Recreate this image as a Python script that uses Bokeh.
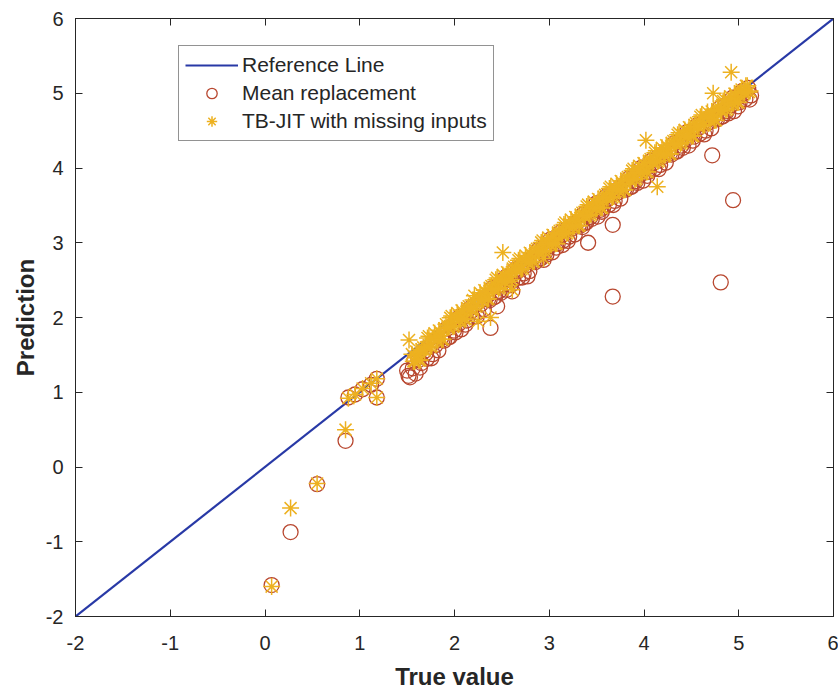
from bokeh.plotting import figure
from bokeh.models import Range1d, FixedTicker, LinearAxis, Legend, LegendItem
from bokeh.embed import file_html
from bokeh.resources import INLINE

# ---------------- data ----------------
ref_x = [-2, 6]
ref_y = [-2, 6]

mean_x = [0.07, 0.27, 0.55, 0.85, 0.88, 0.95, 1.03, 1.12, 1.18, 1.18,
          1.50, 1.53, 1.56, 1.59, 1.62, 1.65, 1.68, 1.71, 1.74, 1.77,
          1.80, 1.83, 1.86, 1.89, 1.92, 1.95, 1.98, 2.01, 2.04, 2.07,
          2.10, 2.13, 2.16, 2.19, 2.22, 2.25, 2.28, 2.31, 2.34, 2.37,
          2.40, 2.43, 2.46, 2.49, 2.52, 2.55, 2.58, 2.61, 2.64, 2.67,
          2.70, 2.73, 2.76, 2.79, 2.82, 2.85, 2.88, 2.91, 2.94, 2.97,
          3.00, 3.03, 3.06, 3.09, 3.12, 3.15, 3.18, 3.21, 3.24, 3.27,
          3.30, 3.33, 3.36, 3.39, 3.42, 3.45, 3.48, 3.51, 3.54, 3.57,
          3.60, 3.63, 3.66, 3.69, 3.72, 3.75, 3.78, 3.81, 3.84, 3.87,
          3.90, 3.93, 3.96, 3.99, 4.02, 4.05, 4.08, 4.11, 4.14, 4.17,
          4.20, 4.23, 4.26, 4.29, 4.32, 4.35, 4.38, 4.41, 4.44, 4.47,
          4.50, 4.53, 4.56, 4.59, 4.62, 4.65, 4.68, 4.71, 4.74, 4.77,
          4.80, 4.83, 4.86, 4.89, 4.92, 4.95, 4.98, 5.01, 5.04, 5.07,
          5.10, 5.13,
          1.515, 1.575, 1.635, 1.695, 1.755, 1.815, 1.875, 1.935, 1.995, 2.055,
          2.115, 2.175, 2.235, 2.295, 2.355, 2.415, 2.475, 2.535, 2.595, 2.655,
          2.715, 2.775, 2.835, 2.895, 2.955, 3.015, 3.075, 3.135, 3.195, 3.255,
          3.315, 3.375, 3.435, 3.495, 3.555, 3.615, 3.675, 3.735, 3.795, 3.855,
          3.915, 3.975, 4.035, 4.095, 4.155, 4.215, 4.275, 4.335, 4.395, 4.455,
          4.515, 4.575, 4.635, 4.695, 4.755, 4.815, 4.875, 4.935, 4.995, 5.055,
          5.115,
          2.38, 2.45, 2.61, 2.77, 2.94, 3.14, 3.35, 3.41, 3.54, 3.67,
          3.67, 4.72, 4.81, 4.94]
mean_y = [-1.58, -0.87, -0.23, 0.35, 0.93, 0.97, 1.04, 1.10, 0.93, 1.18,
          1.29, 1.20, 1.32, 1.25, 1.43, 1.39, 1.55, 1.45, 1.61, 1.51,
          1.63, 1.56, 1.73, 1.69, 1.85, 1.74, 1.90, 1.80, 1.91, 1.84,
          2.01, 1.96, 2.12, 2.01, 2.17, 2.07, 2.18, 2.11, 2.28, 2.23,
          2.39, 2.28, 2.43, 2.33, 2.44, 2.37, 2.54, 2.49, 2.64, 2.53,
          2.69, 2.59, 2.70, 2.62, 2.79, 2.74, 2.90, 2.79, 2.94, 2.84,
          2.95, 2.87, 3.04, 2.99, 3.14, 3.03, 3.18, 3.08, 3.19, 3.11,
          3.28, 3.23, 3.38, 3.27, 3.42, 3.32, 3.43, 3.35, 3.52, 3.47,
          3.62, 3.51, 3.66, 3.56, 3.67, 3.59, 3.76, 3.71, 3.86, 3.75,
          3.90, 3.80, 3.91, 3.83, 4.00, 3.95, 4.10, 3.99, 4.14, 4.04,
          4.15, 4.07, 4.23, 4.18, 4.33, 4.22, 4.37, 4.27, 4.38, 4.30,
          4.47, 4.42, 4.57, 4.46, 4.60, 4.50, 4.61, 4.53, 4.70, 4.65,
          4.80, 4.69, 4.84, 4.73, 4.84, 4.76, 4.93, 4.88, 5.03, 4.92,
          5.07, 4.97,
          1.22, 1.42, 1.33, 1.52, 1.455, 1.69, 1.705, 1.735, 1.825, 2.01,
          1.905, 2.085, 2.015, 2.24, 2.245, 2.27, 2.355, 2.535, 2.435, 2.605,
          2.535, 2.755, 2.755, 2.785, 2.865, 3.045, 2.935, 3.105, 3.025, 3.245,
          3.245, 3.265, 3.345, 3.525, 3.415, 3.585, 3.505, 3.725, 3.725, 3.745,
          3.825, 4.005, 3.895, 4.065, 3.985, 4.205, 4.20, 4.22, 4.30, 4.48,
          4.365, 4.535, 4.45, 4.67, 4.665, 4.685, 4.76, 4.94, 4.825, 5.00,
          4.915,
          1.86, 2.15, 2.35, 2.55, 2.77, 2.97, 3.21, 3.00, 3.44, 3.24,
          2.28, 4.17, 2.47, 3.57]

tb_x = [0.07, 0.27, 0.55, 0.85, 0.88, 0.95, 1.03, 1.12, 1.18, 1.18,
        1.52, 2.51, 4.02, 4.14, 4.73, 4.92, 2.61, 2.94, 2.38, 2.25,
        1.55, 1.58, 1.61, 1.64, 1.67, 1.70, 1.73, 1.76, 1.79, 1.82,
        1.85, 1.88, 1.91, 1.94, 1.97, 2.00, 2.03, 2.06, 2.09, 2.12,
        2.15, 2.18, 2.21, 2.24, 2.27, 2.30, 2.33, 2.36, 2.39, 2.42,
        2.45, 2.48, 2.51, 2.54, 2.57, 2.60, 2.63, 2.66, 2.69, 2.72,
        2.75, 2.78, 2.81, 2.84, 2.87, 2.90, 2.93, 2.96, 2.99, 3.02,
        3.05, 3.08, 3.11, 3.14, 3.17, 3.20, 3.23, 3.26, 3.29, 3.32,
        3.35, 3.38, 3.41, 3.44, 3.47, 3.50, 3.53, 3.56, 3.59, 3.62,
        3.65, 3.68, 3.71, 3.74, 3.77, 3.80, 3.83, 3.86, 3.89, 3.92,
        3.95, 3.98, 4.01, 4.04, 4.07, 4.10, 4.13, 4.16, 4.19, 4.22,
        4.25, 4.28, 4.31, 4.34, 4.37, 4.40, 4.43, 4.46, 4.49, 4.52,
        4.55, 4.58, 4.61, 4.64, 4.67, 4.70, 4.73, 4.76, 4.79, 4.82,
        4.85, 4.88, 4.91, 4.94, 4.97, 5.00, 5.03, 5.06, 5.09, 5.12,
        1.565, 1.595, 1.625, 1.655, 1.685, 1.715, 1.745, 1.775, 1.805, 1.835,
        1.865, 1.895, 1.925, 1.955, 1.985, 2.015, 2.045, 2.075, 2.105, 2.135,
        2.165, 2.195, 2.225, 2.255, 2.285, 2.315, 2.345, 2.375, 2.405, 2.435,
        2.465, 2.495, 2.525, 2.555, 2.585, 2.615, 2.645, 2.675, 2.705, 2.735,
        2.765, 2.795, 2.825, 2.855, 2.885, 2.915, 2.945, 2.975, 3.005, 3.035,
        3.065, 3.095, 3.125, 3.155, 3.185, 3.215, 3.245, 3.275, 3.305, 3.335,
        3.365, 3.395, 3.425, 3.455, 3.485, 3.515, 3.545, 3.575, 3.605, 3.635,
        3.665, 3.695, 3.725, 3.755, 3.785, 3.815, 3.845, 3.875, 3.905, 3.935,
        3.965, 3.995, 4.025, 4.055, 4.085, 4.115, 4.145, 4.175, 4.205, 4.235,
        4.265, 4.295, 4.325, 4.355, 4.385, 4.415, 4.445, 4.475, 4.505, 4.535,
        4.565, 4.595, 4.625, 4.655, 4.685, 4.715, 4.745, 4.775, 4.805, 4.835,
        4.865, 4.895, 4.925, 4.955, 4.985, 5.015, 5.045, 5.075, 5.105]
tb_y = [-1.60, -0.55, -0.22, 0.50, 0.92, 0.97, 1.05, 1.12, 0.93, 1.18,
        1.70, 2.87, 4.37, 3.75, 5.00, 5.28, 2.37, 2.79, 2.00, 1.95,
        1.51, 1.41, 1.51, 1.43, 1.60, 1.60, 1.75, 1.62, 1.79, 1.69,
        1.79, 1.71, 1.91, 1.87, 2.02, 1.89, 2.06, 1.96, 2.06, 1.98,
        2.15, 2.11, 2.29, 2.16, 2.33, 2.23, 2.33, 2.25, 2.42, 2.38,
        2.53, 2.40, 2.57, 2.47, 2.57, 2.51, 2.68, 2.64, 2.79, 2.66,
        2.83, 2.73, 2.83, 2.75, 2.92, 2.88, 3.03, 2.90, 3.07, 2.97,
        3.07, 2.99, 3.16, 3.12, 3.27, 3.14, 3.31, 3.21, 3.31, 3.23,
        3.40, 3.36, 3.51, 3.38, 3.55, 3.45, 3.55, 3.47, 3.64, 3.60,
        3.75, 3.62, 3.79, 3.69, 3.79, 3.71, 3.88, 3.84, 3.99, 3.86,
        4.03, 3.93, 4.03, 3.95, 4.12, 4.08, 4.23, 4.10, 4.27, 4.17,
        4.27, 4.19, 4.36, 4.32, 4.47, 4.34, 4.51, 4.41, 4.51, 4.43,
        4.60, 4.56, 4.71, 4.58, 4.75, 4.62, 4.72, 4.64, 4.81, 4.77,
        4.92, 4.79, 4.96, 4.86, 4.96, 4.88, 5.05, 5.01, 5.10, 5.03,
        1.415, 1.545, 1.425, 1.575, 1.555, 1.725, 1.605, 1.725, 1.695, 1.825,
        1.705, 1.855, 1.865, 1.995, 1.875, 1.995, 1.965, 2.095, 1.975, 2.125,
        2.105, 2.235, 2.145, 2.265, 2.235, 2.365, 2.245, 2.395, 2.375, 2.505,
        2.385, 2.505, 2.475, 2.605, 2.485, 2.655, 2.635, 2.765, 2.645, 2.765,
        2.735, 2.865, 2.745, 2.895, 2.875, 3.005, 2.885, 3.005, 2.975, 3.105,
        2.985, 3.135, 3.115, 3.245, 3.125, 3.245, 3.215, 3.345, 3.225, 3.375,
        3.355, 3.485, 3.365, 3.485, 3.455, 3.585, 3.465, 3.615, 3.595, 3.725,
        3.605, 3.725, 3.695, 3.825, 3.705, 3.855, 3.835, 3.965, 3.845, 3.965,
        3.935, 4.065, 3.945, 4.095, 4.075, 4.205, 4.085, 4.205, 4.175, 4.305,
        4.185, 4.335, 4.315, 4.445, 4.325, 4.445, 4.415, 4.545, 4.425, 4.575,
        4.555, 4.685, 4.565, 4.685, 4.655, 4.755, 4.635, 4.785, 4.765, 4.895,
        4.775, 4.895, 4.865, 4.995, 4.875, 5.025, 5.005, 5.10, 5.015]

tick_values = [-2, -1, 0, 1, 2, 3, 4, 5, 6]
tick_labels = ["-2", "-1", "0", "1", "2", "3", "4", "5", "6"]

# ---------------- styling ----------------
FONT = "Liberation Sans"
AX_COL = "#262626"
LINE_COL = "#2839A6"
MEAN_COL = "#B8472F"
TB_COL = "#EDB120"

p = figure(width=838, height=692,
           x_range=Range1d(-2, 6), y_range=Range1d(-2, 6),
           output_backend="svg", toolbar_location=None,
           min_border_left=75, min_border_right=5,
           min_border_top=18, min_border_bottom=74)

p.background_fill_color = "white"
p.border_fill_color = "white"
p.outline_line_color = AX_COL
p.outline_line_width = 1
p.xgrid.visible = False
p.ygrid.visible = False

for ax in (p.xaxis[0], p.yaxis[0]):
    ax.ticker = FixedTicker(ticks=tick_values)
    ax.major_label_overrides = dict(zip(tick_values, tick_labels))
    ax.major_tick_in = 7
    ax.major_tick_out = 0
    ax.minor_tick_line_color = None
    ax.axis_line_color = AX_COL
    ax.major_tick_line_color = AX_COL
    ax.major_label_text_font = FONT
    ax.major_label_text_font_size = "20px"
    ax.major_label_text_color = AX_COL
    ax.axis_label_text_font = FONT
    ax.axis_label_text_font_size = "24px"
    ax.axis_label_text_font_style = "bold"
    ax.axis_label_text_color = AX_COL

p.xaxis[0].axis_label = "True value"
p.xaxis[0].major_label_standoff = 19
p.xaxis[0].axis_label_standoff = 10
p.yaxis[0].axis_label = "Prediction"
p.yaxis[0].major_label_standoff = 12
p.yaxis[0].axis_label_standoff = 4

for side in ("above", "right"):
    ax = LinearAxis(ticker=FixedTicker(ticks=tick_values))
    ax.major_label_overrides = {t: "" for t in tick_values}
    ax.major_label_text_color = None
    ax.major_label_text_font_size = "1px"
    ax.major_label_standoff = 0
    ax.major_tick_in = 7
    ax.major_tick_out = 0
    ax.minor_tick_line_color = None
    ax.axis_line_color = AX_COL
    ax.major_tick_line_color = AX_COL
    p.add_layout(ax, side)

r_line = p.line(ref_x, ref_y, line_color=LINE_COL, line_width=2.2)
r_mean = p.scatter(mean_x, mean_y, marker="circle", size=15,
                   fill_color=None, line_color=MEAN_COL, line_width=1.3)
r_tb = p.scatter(tb_x, tb_y, marker="asterisk", size=17,
                 line_color=TB_COL, line_width=1.5)

legend = Legend(items=[
    LegendItem(label="Reference Line", renderers=[r_line]),
    LegendItem(label="Mean replacement", renderers=[r_mean]),
    LegendItem(label="TB-JIT with missing inputs", renderers=[r_tb]),
], location=(103, 475))
legend.label_text_font = FONT
legend.label_text_font_size = "21px"
legend.label_text_color = AX_COL
legend.border_line_color = AX_COL
legend.border_line_width = 1
legend.background_fill_color = "white"
legend.background_fill_alpha = 1
legend.padding = 6
legend.margin = 0
legend.spacing = 2
legend.label_standoff = 4
legend.glyph_width = 53
legend.glyph_height = 26
p.add_layout(legend, "center")

open("out.html", "w").write(file_html(p, INLINE))
